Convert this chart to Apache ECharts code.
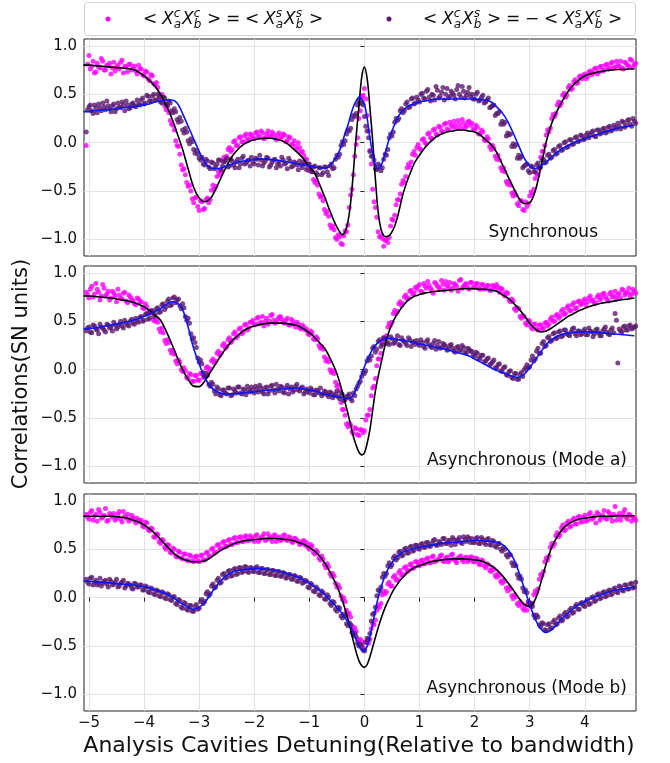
<!DOCTYPE html>
<html>
<head>
<meta charset="utf-8">
<script src="https://cdn.jsdelivr.net/npm/echarts@6/dist/echarts.min.js"></script>
<style>
  html, body { margin: 0; padding: 0; background: #fff; }
  #chart { width: 670px; height: 763px; }
</style>
</head>
<body>
<div id="chart"></div>
<script>
// detuning of the measured points (two interleaved sweeps, shared by every panel)
const xs = [
  -5.05,-5,-4.95,-4.9,-4.85,-4.8,-4.75,-4.7,-4.65,-4.6,-4.55,-4.5,-4.45,-4.4,-4.35,-4.3,-4.25,-4.2,-4.15,-4.1,
  -4.05,-4,-3.95,-3.9,-3.85,-3.8,-3.75,-3.7,-3.65,-3.6,-3.55,-3.5,-3.45,-3.4,-3.35,-3.3,-3.25,-3.2,-3.15,-3.1,
  -3.05,-3,-2.95,-2.9,-2.85,-2.8,-2.75,-2.7,-2.65,-2.6,-2.55,-2.5,-2.45,-2.4,-2.35,-2.3,-2.25,-2.2,-2.15,-2.1,
  -2.05,-2,-1.95,-1.9,-1.85,-1.8,-1.75,-1.7,-1.65,-1.6,-1.55,-1.5,-1.45,-1.4,-1.35,-1.3,-1.25,-1.2,-1.15,-1.1,
  -1.05,-1,-0.95,-0.9,-0.85,-0.8,-0.75,-0.7,-0.65,-0.6,-0.55,-0.5,-0.45,-0.4,-0.35,-0.3,-0.25,-0.2,-0.15,-0.1,
  -0.05,0,0.05,0.1,0.15,0.2,0.25,0.3,0.35,0.4,0.45,0.5,0.55,0.6,0.65,0.7,0.75,0.8,0.85,0.9,
  0.95,1,1.05,1.1,1.15,1.2,1.25,1.3,1.35,1.4,1.45,1.5,1.55,1.6,1.65,1.7,1.75,1.8,1.85,1.9,
  1.95,2,2.05,2.1,2.15,2.2,2.25,2.3,2.35,2.4,2.45,2.5,2.55,2.6,2.65,2.7,2.75,2.8,2.85,2.9,
  2.95,3,3.05,3.1,3.15,3.2,3.25,3.3,3.35,3.4,3.45,3.5,3.55,3.6,3.65,3.7,3.75,3.8,3.85,3.9,
  3.95,4,4.05,4.1,4.15,4.2,4.25,4.3,4.35,4.4,4.45,4.5,4.55,4.6,4.65,4.7,4.75,4.8,4.85,4.9
];
const xsMid = [
  -5.025,-4.975,-4.925,-4.875,-4.825,-4.775,-4.725,-4.675,-4.625,-4.575,-4.525,-4.475,-4.425,-4.375,-4.325,-4.275,-4.225,-4.175,-4.125,-4.075,
  -4.025,-3.975,-3.925,-3.875,-3.825,-3.775,-3.725,-3.675,-3.625,-3.575,-3.525,-3.475,-3.425,-3.375,-3.325,-3.275,-3.225,-3.175,-3.125,-3.075,
  -3.025,-2.975,-2.925,-2.875,-2.825,-2.775,-2.725,-2.675,-2.625,-2.575,-2.525,-2.475,-2.425,-2.375,-2.325,-2.275,-2.225,-2.175,-2.125,-2.075,
  -2.025,-1.975,-1.925,-1.875,-1.825,-1.775,-1.725,-1.675,-1.625,-1.575,-1.525,-1.475,-1.425,-1.375,-1.325,-1.275,-1.225,-1.175,-1.125,-1.075,
  -1.025,-0.975,-0.925,-0.875,-0.825,-0.775,-0.725,-0.675,-0.625,-0.575,-0.525,-0.475,-0.425,-0.375,-0.325,-0.275,-0.225,-0.175,-0.125,-0.075,
  -0.025,0.025,0.075,0.125,0.175,0.225,0.275,0.325,0.375,0.425,0.475,0.525,0.575,0.625,0.675,0.725,0.775,0.825,0.875,0.925,
  0.975,1.025,1.075,1.125,1.175,1.225,1.275,1.325,1.375,1.425,1.475,1.525,1.575,1.625,1.675,1.725,1.775,1.825,1.875,1.925,
  1.975,2.025,2.075,2.125,2.175,2.225,2.275,2.325,2.375,2.425,2.475,2.525,2.575,2.625,2.675,2.725,2.775,2.825,2.875,2.925,
  2.975,3.025,3.075,3.125,3.175,3.225,3.275,3.325,3.375,3.425,3.475,3.525,3.575,3.625,3.675,3.725,3.775,3.825,3.875,3.925,
  3.975,4.025,4.075,4.125,4.175,4.225,4.275,4.325,4.375,4.425,4.475,4.525,4.575,4.625,4.675,4.725,4.775,4.825,4.875,4.925
];

// Synchronous
const syncCC = [
  -0.03,0.90,0.79,0.72,0.82,0.77,0.84,0.75,0.80,0.71,0.83,0.78,0.76,0.85,0.79,0.73,0.81,0.77,0.74,0.80,
  0.76,0.69,0.73,0.64,0.69,0.60,0.57,0.46,0.47,0.34,0.31,0.19,0.13,-0.03,-0.12,-0.28,-0.33,-0.45,-0.50,-0.62,
  -0.56,-0.70,-0.61,-0.68,-0.57,-0.59,-0.44,-0.45,-0.30,-0.29,-0.15,-0.14,-0.05,-0.07,0.02,-0.03,0.06,0.01,0.09,0.04,
  0.08,0.04,0.11,0.06,0.10,0.05,0.12,0.07,0.09,0.03,0.10,0.06,0.08,0.02,0.05,-0.01,-0.04,0.00,-0.10,-0.13,
  -0.17,-0.29,-0.30,-0.41,-0.44,-0.56,-0.60,-0.73,-0.76,-0.88,-0.90,-1.00,-0.97,-1.05,-0.91,-0.85,-0.54,-0.33,-0.02,0.25,
  0.47,0.56,0.28,-0.08,-0.48,-0.67,-0.92,-0.96,-1.07,-1.00,-0.98,-0.79,-0.75,-0.59,-0.53,-0.39,-0.35,-0.22,-0.20,-0.09,
  -0.05,-0.06,0.03,0.00,0.09,0.05,0.13,0.09,0.17,0.12,0.19,0.14,0.21,0.16,0.18,0.23,0.15,0.20,0.17,0.22,
  0.20,0.13,0.16,0.09,0.11,0.02,0.04,-0.07,-0.06,-0.17,-0.18,-0.29,-0.30,-0.43,-0.44,-0.55,-0.54,-0.65,-0.60,-0.70,
  -0.66,-0.55,-0.53,-0.37,-0.33,-0.15,-0.09,0.08,0.11,0.25,0.27,0.39,0.38,0.49,0.47,0.57,0.55,0.63,0.61,0.68,
  0.66,0.71,0.68,0.74,0.72,0.77,0.73,0.79,0.75,0.81,0.77,0.83,0.78,0.80,0.84,0.76,0.82,0.79,0.85,0.81
];
const syncCCMid = [
  0.81,0.76,0.84,0.73,0.78,0.87,0.75,0.80,0.82,0.77,0.74,0.80,0.83,0.72,0.78,0.81,0.75,0.79,0.71,0.76,
  0.70,0.74,0.66,0.70,0.61,0.62,0.49,0.50,0.38,0.37,0.23,0.18,0.02,-0.04,-0.23,-0.27,-0.41,-0.44,-0.58,-0.57,
  -0.66,-0.60,-0.69,-0.59,-0.62,-0.49,-0.48,-0.35,-0.33,-0.19,-0.18,-0.07,-0.09,0.01,-0.03,0.05,0.01,0.07,0.03,0.09,
  0.05,0.10,0.07,0.12,0.04,0.09,0.06,0.11,0.05,0.08,0.04,0.09,0.01,0.06,-0.02,0.02,-0.07,-0.05,-0.09,-0.17,
  -0.26,-0.26,-0.38,-0.39,-0.53,-0.55,-0.69,-0.71,-0.85,-0.86,-0.98,-0.95,-1.04,-0.96,-0.92,-0.67,-0.48,-0.14,0.05,0.33,
  0.49,0.45,0.12,-0.22,-0.61,-0.77,-0.97,-0.99,-1.01,-1.03,-0.86,-0.80,-0.64,-0.59,-0.43,-0.41,-0.26,-0.25,-0.12,-0.13,
  -0.02,-0.07,0.04,-0.01,0.10,0.04,0.14,0.08,0.16,0.11,0.20,0.13,0.18,0.22,0.15,0.19,0.24,0.16,0.21,0.18,
  0.14,0.18,0.09,0.13,0.03,0.06,-0.04,-0.03,-0.14,-0.13,-0.26,-0.26,-0.40,-0.40,-0.52,-0.51,-0.63,-0.60,-0.69,-0.61,
  -0.63,-0.51,-0.48,-0.32,-0.27,-0.09,-0.03,0.13,0.15,0.29,0.30,0.42,0.41,0.51,0.49,0.59,0.56,0.65,0.62,0.69,
  0.69,0.66,0.73,0.70,0.76,0.71,0.78,0.74,0.80,0.76,0.82,0.77,0.84,0.79,0.77,0.83,0.80,0.86,0.78,0.82
];
const syncCS = [
  0.11,0.37,0.33,0.39,0.31,0.36,0.41,0.34,0.38,0.32,0.40,0.35,0.37,0.42,0.33,0.39,0.36,0.41,0.37,0.40,
  0.44,0.40,0.49,0.43,0.48,0.44,0.50,0.42,0.47,0.40,0.43,0.33,0.35,0.24,0.26,0.13,0.15,0.02,0.04,-0.07,
  -0.08,-0.16,-0.15,-0.23,-0.19,-0.27,-0.21,-0.25,-0.18,-0.28,-0.20,-0.16,-0.24,-0.19,-0.26,-0.17,-0.22,-0.14,-0.21,-0.18,
  -0.15,-0.22,-0.17,-0.13,-0.24,-0.19,-0.16,-0.23,-0.18,-0.26,-0.20,-0.15,-0.22,-0.27,-0.19,-0.24,-0.21,-0.28,-0.23,-0.20,
  -0.28,-0.22,-0.30,-0.24,-0.33,-0.26,-0.31,-0.25,-0.34,-0.22,-0.26,-0.13,-0.12,0.01,0.02,0.13,0.15,0.28,0.30,0.43,
  0.41,0.27,0.12,-0.09,-0.14,-0.27,-0.22,-0.29,-0.17,-0.13,0.05,0.07,0.21,0.23,0.33,0.31,0.40,0.36,0.45,0.40,
  0.47,0.42,0.51,0.45,0.55,0.43,0.49,0.58,0.46,0.52,0.44,0.56,0.48,0.51,0.45,0.59,0.47,0.53,0.49,0.57,
  0.50,0.45,0.52,0.44,0.49,0.42,0.46,0.37,0.39,0.30,0.32,0.22,0.21,0.10,0.09,-0.01,-0.02,-0.13,-0.14,-0.24,
  -0.22,-0.31,-0.25,-0.30,-0.21,-0.25,-0.17,-0.20,-0.12,-0.15,-0.07,-0.11,-0.03,-0.07,0.01,-0.04,0.03,-0.01,0.06,0.02,
  0.07,0.04,0.10,0.08,0.12,0.06,0.13,0.10,0.15,0.11,0.17,0.13,0.16,0.20,0.14,0.21,0.18,0.24,0.17,0.22
];
const syncCSMid = [
  0.34,0.39,0.30,0.36,0.40,0.33,0.37,0.43,0.35,0.38,0.32,0.41,0.36,0.39,0.43,0.35,0.40,0.38,0.44,0.39,
  0.46,0.41,0.48,0.43,0.50,0.44,0.47,0.41,0.46,0.39,0.41,0.31,0.32,0.21,0.22,0.10,0.11,-0.01,0.01,-0.11,
  -0.12,-0.18,-0.22,-0.17,-0.25,-0.20,-0.27,-0.22,-0.18,-0.24,-0.19,-0.25,-0.17,-0.23,-0.20,-0.26,-0.16,-0.22,-0.19,-0.24,
  -0.20,-0.16,-0.23,-0.18,-0.21,-0.15,-0.25,-0.20,-0.17,-0.22,-0.24,-0.18,-0.21,-0.16,-0.25,-0.20,-0.23,-0.19,-0.26,-0.22,
  -0.22,-0.29,-0.25,-0.31,-0.26,-0.33,-0.25,-0.30,-0.24,-0.27,-0.17,-0.15,-0.03,-0.02,0.09,0.12,0.24,0.27,0.39,0.41,
  0.39,0.17,0.05,-0.14,-0.18,-0.28,-0.24,-0.26,-0.12,-0.07,0.09,0.11,0.25,0.25,0.35,0.33,0.42,0.37,0.46,0.41,
  0.44,0.50,0.46,0.53,0.47,0.50,0.44,0.54,0.48,0.57,0.50,0.46,0.53,0.49,0.55,0.50,0.58,0.46,0.52,0.48,
  0.45,0.50,0.43,0.47,0.41,0.44,0.36,0.38,0.28,0.30,0.19,0.19,0.07,0.08,-0.04,-0.04,-0.16,-0.16,-0.26,-0.23,
  -0.29,-0.24,-0.30,-0.23,-0.26,-0.18,-0.21,-0.13,-0.16,-0.08,-0.12,-0.04,-0.08,0.00,-0.05,0.03,-0.02,0.05,0.01,0.08,
  0.03,0.08,0.05,0.11,0.07,0.13,0.09,0.14,0.10,0.16,0.12,0.18,0.14,0.17,0.22,0.16,0.23,0.19,0.25,0.20
];
// Asynchronous (Mode a)
const modeACC = [
  0.80,0.74,0.86,0.78,0.83,0.72,0.88,0.76,0.81,0.74,0.79,0.70,0.77,0.73,0.80,0.69,0.75,0.71,0.67,0.73,
  0.70,0.63,0.65,0.58,0.59,0.50,0.49,0.39,0.38,0.27,0.28,0.17,0.16,0.06,0.08,-0.02,-0.01,-0.09,-0.05,-0.12,
  -0.06,-0.11,-0.04,-0.07,0.03,0.01,0.11,0.09,0.19,0.17,0.27,0.24,0.33,0.30,0.39,0.35,0.43,0.39,0.47,0.43,
  0.49,0.46,0.53,0.48,0.55,0.50,0.47,0.56,0.51,0.49,0.54,0.52,0.48,0.53,0.46,0.50,0.44,0.47,0.42,0.44,
  0.42,0.36,0.38,0.31,0.32,0.22,0.21,0.09,0.08,-0.03,-0.04,-0.17,-0.21,-0.41,-0.47,-0.59,-0.57,-0.66,-0.61,-0.68,
  -0.62,-0.63,-0.47,-0.41,-0.19,-0.09,0.11,0.17,0.33,0.35,0.48,0.49,0.61,0.60,0.70,0.68,0.77,0.74,0.82,0.79,
  0.83,0.88,0.80,0.86,0.91,0.84,0.79,0.89,0.85,0.92,0.82,0.87,0.90,0.84,0.88,0.81,0.93,0.86,0.89,0.83,
  0.90,0.85,0.89,0.83,0.88,0.84,0.87,0.82,0.86,0.88,0.80,0.83,0.76,0.79,0.70,0.71,0.61,0.63,0.53,0.55,
  0.46,0.50,0.42,0.47,0.41,0.46,0.43,0.49,0.47,0.54,0.50,0.57,0.55,0.62,0.58,0.66,0.61,0.69,0.64,0.71,
  0.68,0.73,0.70,0.76,0.72,0.69,0.77,0.74,0.79,0.73,0.78,0.75,0.81,0.77,0.74,0.82,0.79,0.84,0.78,0.81
];
const modeACCMid = [
  0.77,0.83,0.75,0.89,0.80,0.76,0.84,0.78,0.72,0.81,0.76,0.83,0.74,0.79,0.71,0.77,0.73,0.68,0.74,0.70,
  0.64,0.68,0.59,0.61,0.51,0.53,0.42,0.43,0.30,0.31,0.20,0.20,0.09,0.10,0.00,0.02,-0.08,-0.04,-0.12,-0.06,
  -0.11,-0.04,-0.08,0.02,-0.01,0.09,0.07,0.17,0.15,0.25,0.22,0.31,0.28,0.37,0.33,0.42,0.37,0.46,0.41,0.49,
  0.51,0.47,0.54,0.49,0.45,0.53,0.50,0.57,0.48,0.52,0.55,0.49,0.51,0.46,0.52,0.47,0.49,0.43,0.46,0.41,
  0.37,0.40,0.32,0.34,0.25,0.24,0.13,0.11,0.00,-0.01,-0.13,-0.16,-0.34,-0.41,-0.56,-0.55,-0.64,-0.60,-0.67,-0.62,
  -0.65,-0.52,-0.47,-0.27,-0.17,0.04,0.11,0.28,0.31,0.44,0.46,0.58,0.58,0.68,0.66,0.75,0.73,0.81,0.78,0.85,
  0.86,0.81,0.89,0.84,0.87,0.82,0.90,0.86,0.83,0.88,0.91,0.85,0.82,0.89,0.86,0.92,0.84,0.88,0.85,0.90,
  0.85,0.89,0.84,0.88,0.83,0.87,0.82,0.87,0.83,0.85,0.84,0.78,0.80,0.72,0.73,0.63,0.64,0.55,0.56,0.48,
  0.51,0.44,0.47,0.42,0.46,0.42,0.48,0.45,0.52,0.50,0.56,0.53,0.60,0.57,0.64,0.61,0.67,0.63,0.70,0.67,
  0.71,0.67,0.74,0.71,0.68,0.75,0.72,0.78,0.75,0.71,0.80,0.76,0.73,0.79,0.83,0.77,0.80,0.76,0.83,0.79
];
const modeACS = [
  0.40,0.44,0.38,0.45,0.41,0.47,0.43,0.39,0.46,0.44,0.49,0.42,0.47,0.45,0.51,0.46,0.50,0.48,0.53,0.49,
  0.55,0.51,0.58,0.53,0.61,0.57,0.64,0.60,0.68,0.65,0.73,0.67,0.75,0.72,0.66,0.68,0.55,0.53,0.37,0.33,
  0.23,0.08,0.06,-0.07,-0.06,-0.17,-0.15,-0.25,-0.20,-0.27,-0.21,-0.25,-0.19,-0.26,-0.22,-0.18,-0.24,-0.20,-0.26,-0.21,
  -0.18,-0.24,-0.20,-0.16,-0.23,-0.19,-0.25,-0.17,-0.21,-0.15,-0.22,-0.18,-0.24,-0.16,-0.20,-0.23,-0.17,-0.21,-0.19,-0.25,
  -0.20,-0.24,-0.21,-0.26,-0.22,-0.19,-0.25,-0.23,-0.28,-0.24,-0.27,-0.22,-0.30,-0.26,-0.31,-0.27,-0.30,-0.24,-0.20,-0.14,
  -0.07,-0.04,0.09,0.10,0.22,0.18,0.29,0.24,0.33,0.27,0.26,0.32,0.28,0.35,0.25,0.30,0.27,0.33,0.24,0.29,
  0.30,0.25,0.28,0.22,0.31,0.24,0.27,0.21,0.29,0.23,0.26,0.20,0.25,0.22,0.18,0.24,0.20,0.23,0.17,0.21,
  0.19,0.14,0.17,0.11,0.15,0.09,0.12,0.06,0.10,0.02,0.06,-0.02,0.03,-0.06,-0.01,-0.09,-0.04,-0.10,-0.03,0.00,
  0.05,0.03,0.14,0.11,0.22,0.17,0.29,0.25,0.34,0.30,0.38,0.33,0.40,0.35,0.41,0.36,0.39,0.43,0.35,0.40,
  0.37,0.42,0.36,0.40,0.34,0.41,0.38,0.35,0.42,0.39,0.36,0.43,0.58,0.07,0.40,0.44,0.41,0.45,0.42,0.44
];
const modeACSMid = [
  0.43,0.39,0.46,0.42,0.37,0.44,0.41,0.47,0.43,0.40,0.46,0.44,0.50,0.43,0.48,0.45,0.52,0.47,0.50,0.54,
  0.50,0.57,0.52,0.60,0.55,0.63,0.59,0.67,0.62,0.71,0.66,0.74,0.69,0.73,0.63,0.64,0.51,0.48,0.32,0.28,
  0.12,0.10,-0.03,-0.04,-0.15,-0.13,-0.22,-0.18,-0.26,-0.21,-0.24,-0.19,-0.27,-0.20,-0.24,-0.18,-0.25,-0.21,-0.17,-0.23,
  -0.21,-0.17,-0.23,-0.19,-0.25,-0.18,-0.22,-0.16,-0.24,-0.20,-0.17,-0.23,-0.19,-0.25,-0.18,-0.21,-0.15,-0.22,-0.18,-0.23,
  -0.22,-0.19,-0.26,-0.21,-0.24,-0.27,-0.22,-0.26,-0.23,-0.29,-0.25,-0.28,-0.24,-0.32,-0.28,-0.25,-0.32,-0.27,-0.17,-0.12,
  -0.03,-0.01,0.12,0.14,0.24,0.21,0.31,0.26,0.32,0.28,0.34,0.27,0.31,0.26,0.33,0.29,0.25,0.31,0.28,0.26,
  0.27,0.31,0.24,0.29,0.26,0.23,0.30,0.25,0.22,0.27,0.24,0.21,0.26,0.19,0.23,0.20,0.25,0.18,0.22,0.19,
  0.15,0.18,0.12,0.15,0.08,0.11,0.05,0.08,0.02,0.05,-0.01,0.02,-0.05,-0.02,-0.08,-0.04,-0.10,-0.05,-0.07,0.02,
  0.02,0.10,0.09,0.19,0.17,0.27,0.24,0.33,0.29,0.37,0.32,0.39,0.34,0.41,0.37,0.35,0.42,0.37,0.40,0.36,
  0.40,0.36,0.43,0.39,0.37,0.42,0.35,0.40,0.44,0.37,0.41,0.38,0.51,0.42,0.39,0.45,0.41,0.46,0.43,0.45
];
// Asynchronous (Mode b)
const modeBCC = [
  0.86,0.81,0.90,0.84,0.79,0.88,0.83,0.92,0.80,0.85,0.87,0.82,0.89,0.78,0.84,0.86,0.81,0.83,0.77,0.80,
  0.80,0.73,0.77,0.69,0.71,0.62,0.65,0.56,0.59,0.50,0.54,0.46,0.50,0.42,0.47,0.40,0.45,0.38,0.43,0.37,
  0.43,0.37,0.44,0.39,0.47,0.43,0.51,0.47,0.55,0.51,0.58,0.53,0.60,0.55,0.62,0.57,0.63,0.58,0.64,0.59,
  0.62,0.58,0.65,0.60,0.63,0.59,0.66,0.61,0.64,0.58,0.63,0.60,0.65,0.59,0.62,0.57,0.61,0.58,0.56,0.59,
  0.57,0.50,0.53,0.45,0.47,0.39,0.40,0.31,0.32,0.22,0.22,0.11,0.10,-0.02,-0.04,-0.17,-0.20,-0.33,-0.35,-0.46,
  -0.45,-0.53,-0.44,-0.43,-0.27,-0.23,-0.08,-0.06,0.07,0.06,0.16,0.12,0.23,0.19,0.28,0.24,0.32,0.28,0.35,0.31,
  0.37,0.33,0.39,0.35,0.41,0.36,0.43,0.38,0.40,0.44,0.37,0.42,0.39,0.45,0.38,0.41,0.43,0.37,0.42,0.39,
  0.42,0.37,0.40,0.34,0.38,0.31,0.34,0.27,0.29,0.21,0.23,0.15,0.17,0.07,0.09,-0.01,0.01,-0.08,-0.06,-0.13,
  -0.13,-0.05,-0.06,0.07,0.09,0.24,0.27,0.41,0.43,0.56,0.56,0.67,0.65,0.75,0.70,0.79,0.74,0.82,0.76,0.84,
  0.78,0.85,0.80,0.88,0.82,0.77,0.86,0.83,0.90,0.81,0.87,0.79,0.94,0.84,0.80,0.88,0.83,0.86,0.79,0.82
];
const modeBCCMid = [
  0.83,0.88,0.80,0.86,0.91,0.82,0.85,0.79,0.87,0.83,0.80,0.86,0.81,0.89,0.82,0.79,0.85,0.80,0.82,0.78,
  0.74,0.78,0.70,0.72,0.63,0.66,0.58,0.60,0.52,0.55,0.47,0.51,0.43,0.48,0.41,0.45,0.39,0.44,0.38,0.42,
  0.38,0.43,0.39,0.46,0.42,0.50,0.46,0.54,0.50,0.57,0.53,0.59,0.55,0.61,0.57,0.62,0.58,0.63,0.59,0.64,
  0.60,0.64,0.58,0.62,0.66,0.60,0.63,0.58,0.65,0.61,0.59,0.64,0.60,0.63,0.58,0.61,0.59,0.55,0.58,0.54,
  0.52,0.55,0.47,0.49,0.41,0.43,0.34,0.35,0.25,0.25,0.15,0.13,0.02,0.00,-0.13,-0.16,-0.29,-0.31,-0.43,-0.43,
  -0.52,-0.46,-0.47,-0.32,-0.28,-0.13,-0.10,0.03,0.04,0.14,0.12,0.21,0.18,0.26,0.23,0.31,0.27,0.34,0.30,0.37,
  0.34,0.38,0.35,0.40,0.36,0.42,0.37,0.39,0.43,0.38,0.41,0.37,0.44,0.40,0.36,0.42,0.39,0.41,0.37,0.42,
  0.37,0.41,0.35,0.39,0.33,0.35,0.28,0.31,0.23,0.25,0.17,0.18,0.10,0.11,0.02,0.03,-0.06,-0.04,-0.11,-0.08,
  -0.06,-0.09,0.03,0.05,0.19,0.23,0.37,0.39,0.52,0.53,0.64,0.63,0.72,0.69,0.77,0.73,0.80,0.76,0.83,0.78,
  0.83,0.79,0.86,0.81,0.84,0.88,0.80,0.85,0.82,0.89,0.83,0.86,0.80,0.87,0.84,0.91,0.81,0.85,0.83,0.80
];
const modeBCS = [
  0.19,0.14,0.21,0.16,0.13,0.20,0.15,0.18,0.11,0.17,0.14,0.19,0.12,0.16,0.10,0.15,0.13,0.09,0.14,0.11,
  0.13,0.08,0.11,0.05,0.09,0.03,0.07,0.01,0.05,-0.01,0.03,-0.03,0.01,-0.07,-0.03,-0.11,-0.06,-0.13,-0.08,-0.14,
  -0.07,-0.11,-0.02,-0.04,0.06,0.04,0.14,0.11,0.20,0.16,0.25,0.21,0.28,0.23,0.30,0.25,0.31,0.27,0.32,0.26,
  0.31,0.27,0.32,0.26,0.30,0.25,0.29,0.24,0.28,0.23,0.27,0.22,0.25,0.21,0.24,0.19,0.22,0.17,0.20,0.16,
  0.17,0.10,0.13,0.06,0.09,0.02,0.05,-0.02,0.01,-0.08,-0.05,-0.14,-0.11,-0.21,-0.19,-0.29,-0.28,-0.39,-0.40,-0.50,
  -0.49,-0.55,-0.42,-0.37,-0.17,-0.10,0.08,0.11,0.25,0.25,0.36,0.34,0.43,0.41,0.48,0.44,0.51,0.46,0.53,0.49,
  0.54,0.50,0.56,0.52,0.57,0.53,0.59,0.54,0.58,0.55,0.61,0.56,0.59,0.62,0.55,0.60,0.57,0.63,0.58,0.61,
  0.61,0.57,0.62,0.56,0.60,0.55,0.61,0.54,0.58,0.52,0.56,0.48,0.50,0.42,0.44,0.33,0.33,0.20,0.19,0.06,
  0.05,-0.08,-0.09,-0.21,-0.20,-0.30,-0.27,-0.34,-0.27,-0.31,-0.23,-0.27,-0.19,-0.23,-0.15,-0.19,-0.11,-0.15,-0.07,-0.12,
  -0.05,-0.09,-0.02,-0.06,0.01,-0.03,0.04,0.00,0.06,0.02,0.08,0.04,0.10,0.05,0.11,0.07,0.13,0.09,0.15,0.11
];
const modeBCSMid = [
  0.16,0.20,0.13,0.18,0.15,0.12,0.17,0.14,0.19,0.13,0.16,0.11,0.15,0.18,0.12,0.14,0.10,0.15,0.11,0.13,
  0.08,0.12,0.06,0.10,0.04,0.08,0.02,0.06,0.00,0.04,-0.02,0.01,-0.06,-0.02,-0.10,-0.05,-0.12,-0.08,-0.14,-0.09,
  -0.12,-0.04,-0.06,0.04,0.02,0.12,0.10,0.18,0.15,0.24,0.20,0.27,0.22,0.29,0.24,0.31,0.26,0.32,0.27,0.31,
  0.27,0.31,0.26,0.30,0.25,0.29,0.24,0.28,0.23,0.27,0.22,0.26,0.20,0.24,0.19,0.23,0.17,0.21,0.15,0.18,
  0.11,0.15,0.07,0.11,0.03,0.07,-0.01,0.03,-0.06,-0.04,-0.12,-0.10,-0.19,-0.17,-0.27,-0.26,-0.36,-0.37,-0.47,-0.48,
  -0.54,-0.46,-0.43,-0.24,-0.16,0.02,0.07,0.21,0.22,0.33,0.32,0.41,0.39,0.47,0.43,0.50,0.46,0.52,0.48,0.54,
  0.51,0.55,0.52,0.57,0.53,0.56,0.60,0.54,0.57,0.61,0.56,0.59,0.54,0.60,0.58,0.62,0.56,0.60,0.63,0.57,
  0.57,0.61,0.56,0.62,0.57,0.60,0.55,0.59,0.53,0.56,0.50,0.52,0.44,0.45,0.36,0.35,0.24,0.22,0.10,0.08,
  -0.04,-0.06,-0.18,-0.18,-0.28,-0.26,-0.33,-0.28,-0.32,-0.25,-0.28,-0.21,-0.24,-0.17,-0.20,-0.13,-0.16,-0.09,-0.12,-0.06,
  -0.08,-0.04,-0.07,0.00,-0.04,0.03,-0.01,0.05,0.01,0.07,0.03,0.09,0.06,0.12,0.08,0.13,0.09,0.14,0.10,0.16
];

// detuning of the fitted curves (finer round zero)
const fitXs = [
  -5.1,-5,-4.9,-4.8,-4.7,-4.6,-4.5,-4.4,-4.3,-4.2,
  -4.1,-4,-3.9,-3.8,-3.7,-3.6,-3.5,-3.4,-3.3,-3.2,
  -3.1,-3,-2.9,-2.8,-2.7,-2.6,-2.5,-2.4,-2.3,-2.2,
  -2.1,-2,-1.9,-1.8,-1.7,-1.6,-1.5,-1.4,-1.3,-1.2,
  -1.1,-1,-0.95,-0.9,-0.85,-0.8,-0.75,-0.7,-0.65,-0.6,
  -0.55,-0.5,-0.45,-0.4,-0.35,-0.3,-0.25,-0.2,-0.15,-0.1,
  -0.05,0,0.05,0.1,0.15,0.2,0.25,0.3,0.35,0.4,
  0.45,0.5,0.55,0.6,0.65,0.7,0.75,0.8,0.85,0.9,
  0.95,1,1.1,1.2,1.3,1.4,1.5,1.6,1.7,1.8,
  1.9,2,2.1,2.2,2.3,2.4,2.5,2.6,2.7,2.8,
  2.9,3,3.1,3.2,3.3,3.4,3.5,3.6,3.7,3.8,
  3.9,4,4.1,4.2,4.3,4.4,4.5,4.6,4.7,4.8,
  4.9
];
const syncFitCC = [
  0.80,0.80,0.795,0.79,0.785,0.78,0.775,0.77,0.765,0.755,
  0.73,0.69,0.64,0.58,0.50,0.39,0.26,0.10,-0.07,-0.27,
  -0.46,-0.57,-0.61,-0.58,-0.48,-0.36,-0.24,-0.14,-0.07,-0.02,
  0.01,0.03,0.04,0.045,0.045,0.035,0.02,-0.01,-0.06,-0.11,
  -0.17,-0.25,-0.28,-0.32,-0.38,-0.45,-0.52,-0.59,-0.67,-0.74,
  -0.81,-0.87,-0.92,-0.95,-0.92,-0.82,-0.62,-0.30,0.06,0.37,
  0.67,0.78,0.66,0.36,0.02,-0.38,-0.72,-0.89,-0.96,-0.97,
  -0.96,-0.92,-0.86,-0.77,-0.65,-0.53,-0.44,-0.36,-0.29,-0.22,
  -0.17,-0.13,-0.05,0.01,0.06,0.09,0.11,0.12,0.13,0.13,
  0.12,0.11,0.08,0.03,-0.02,-0.10,-0.22,-0.34,-0.46,-0.57,
  -0.63,-0.62,-0.50,-0.26,0.01,0.20,0.33,0.44,0.53,0.60,
  0.65,0.69,0.71,0.725,0.735,0.745,0.75,0.755,0.755,0.76,
  0.76
];
const syncFitCS = [
  0.32,0.32,0.33,0.335,0.34,0.345,0.35,0.36,0.365,0.37,
  0.38,0.39,0.40,0.42,0.43,0.44,0.44,0.41,0.30,0.17,
  0.04,-0.09,-0.20,-0.26,-0.27,-0.26,-0.24,-0.22,-0.20,-0.19,
  -0.18,-0.175,-0.17,-0.17,-0.175,-0.18,-0.19,-0.20,-0.21,-0.22,
  -0.23,-0.24,-0.245,-0.25,-0.255,-0.26,-0.26,-0.26,-0.25,-0.22,
  -0.18,-0.14,-0.08,0.00,0.10,0.18,0.28,0.37,0.43,0.47,
  0.45,0.40,0.25,0.05,-0.11,-0.23,-0.27,-0.24,-0.16,-0.06,
  0.04,0.12,0.19,0.26,0.30,0.33,0.36,0.38,0.39,0.40,
  0.41,0.42,0.43,0.44,0.45,0.45,0.45,0.45,0.45,0.45,
  0.45,0.45,0.445,0.44,0.42,0.37,0.31,0.22,0.10,-0.03,
  -0.16,-0.24,-0.27,-0.24,-0.20,-0.15,-0.10,-0.06,-0.03,0.00,
  0.02,0.04,0.06,0.08,0.10,0.12,0.13,0.15,0.16,0.17,
  0.18
];
const modeAFitCC = [
  0.76,0.76,0.755,0.75,0.745,0.74,0.73,0.72,0.71,0.695,
  0.675,0.65,0.61,0.56,0.51,0.40,0.27,0.13,0.00,-0.10,
  -0.17,-0.175,-0.12,-0.03,0.06,0.15,0.23,0.30,0.35,0.40,
  0.43,0.45,0.465,0.475,0.48,0.48,0.48,0.475,0.465,0.45,
  0.42,0.38,0.36,0.33,0.30,0.27,0.24,0.20,0.15,0.09,
  0.03,-0.04,-0.13,-0.23,-0.34,-0.45,-0.57,-0.69,-0.78,-0.85,
  -0.88,-0.86,-0.76,-0.62,-0.42,-0.22,-0.07,0.06,0.19,0.31,
  0.40,0.47,0.53,0.58,0.62,0.66,0.69,0.72,0.74,0.755,
  0.765,0.775,0.79,0.80,0.81,0.815,0.82,0.825,0.83,0.835,
  0.835,0.835,0.83,0.83,0.82,0.81,0.775,0.74,0.69,0.63,
  0.56,0.48,0.42,0.39,0.40,0.43,0.47,0.51,0.55,0.58,
  0.61,0.635,0.655,0.67,0.685,0.695,0.705,0.715,0.725,0.73,
  0.74
];
const modeAFitCS = [
  0.42,0.425,0.43,0.44,0.45,0.46,0.47,0.48,0.495,0.51,
  0.525,0.55,0.575,0.60,0.63,0.67,0.70,0.69,0.62,0.44,
  0.22,0.06,-0.08,-0.17,-0.22,-0.245,-0.25,-0.25,-0.245,-0.24,
  -0.235,-0.23,-0.22,-0.215,-0.21,-0.205,-0.20,-0.195,-0.19,-0.19,
  -0.20,-0.21,-0.215,-0.22,-0.23,-0.24,-0.25,-0.255,-0.26,-0.27,
  -0.275,-0.28,-0.285,-0.29,-0.295,-0.30,-0.29,-0.26,-0.20,-0.13,
  -0.05,0.03,0.10,0.16,0.21,0.25,0.28,0.30,0.31,0.32,
  0.32,0.32,0.315,0.31,0.305,0.30,0.295,0.29,0.285,0.28,
  0.27,0.265,0.255,0.245,0.23,0.22,0.205,0.19,0.175,0.16,
  0.14,0.11,0.08,0.05,0.02,-0.01,-0.03,-0.05,-0.07,-0.08,
  -0.05,0.02,0.10,0.18,0.26,0.31,0.345,0.365,0.38,0.385,
  0.39,0.39,0.39,0.385,0.38,0.375,0.37,0.365,0.36,0.355,
  0.35
];
const modeBFitCC = [
  0.84,0.84,0.84,0.84,0.84,0.84,0.835,0.83,0.82,0.80,
  0.78,0.75,0.71,0.66,0.60,0.54,0.48,0.43,0.40,0.38,
  0.37,0.37,0.38,0.41,0.45,0.49,0.52,0.55,0.57,0.585,
  0.595,0.60,0.605,0.61,0.61,0.61,0.605,0.60,0.59,0.57,
  0.55,0.52,0.50,0.48,0.45,0.42,0.38,0.34,0.29,0.24,
  0.18,0.12,0.05,-0.03,-0.12,-0.22,-0.33,-0.45,-0.56,-0.65,
  -0.70,-0.72,-0.69,-0.61,-0.51,-0.41,-0.31,-0.22,-0.14,-0.07,
  -0.01,0.05,0.10,0.14,0.18,0.21,0.24,0.27,0.29,0.31,
  0.32,0.33,0.35,0.37,0.38,0.39,0.395,0.40,0.40,0.40,
  0.395,0.39,0.38,0.36,0.33,0.29,0.23,0.16,0.08,0.00,
  -0.07,-0.09,-0.02,0.15,0.35,0.52,0.63,0.71,0.76,0.79,
  0.81,0.82,0.83,0.835,0.84,0.84,0.84,0.845,0.845,0.845,
  0.845
];
const modeBFitCS = [
  0.17,0.17,0.165,0.16,0.155,0.15,0.145,0.14,0.135,0.13,
  0.12,0.11,0.10,0.08,0.06,0.04,0.01,-0.03,-0.07,-0.10,
  -0.12,-0.10,-0.05,0.03,0.11,0.18,0.23,0.26,0.28,0.29,
  0.295,0.30,0.30,0.295,0.29,0.28,0.265,0.25,0.23,0.21,
  0.18,0.15,0.13,0.11,0.09,0.07,0.05,0.02,-0.01,-0.04,
  -0.07,-0.10,-0.13,-0.17,-0.21,-0.25,-0.30,-0.36,-0.43,-0.50,
  -0.54,-0.55,-0.50,-0.40,-0.27,-0.13,0.00,0.10,0.19,0.26,
  0.32,0.36,0.40,0.43,0.45,0.47,0.48,0.49,0.50,0.51,
  0.515,0.52,0.53,0.54,0.55,0.56,0.565,0.57,0.575,0.58,
  0.585,0.59,0.59,0.585,0.58,0.57,0.55,0.50,0.41,0.27,
  0.10,-0.07,-0.22,-0.32,-0.36,-0.33,-0.27,-0.21,-0.16,-0.11,
  -0.07,-0.04,-0.01,0.01,0.03,0.05,0.07,0.08,0.09,0.10,
  0.11
];

const panelNames = ['Synchronous', 'Asynchronous (Mode a)', 'Asynchronous (Mode b)'];
const xTicks = [-5, -4, -3, -2, -1, 0, 1, 2, 3, 4];
const yTicks = [-1, -0.5, 0, 0.5, 1];

const points = [
  [[syncCC, syncCCMid], [syncCS, syncCSMid]],
  [[modeACC, modeACCMid], [modeACS, modeACSMid]],
  [[modeBCC, modeBCCMid], [modeBCS, modeBCSMid]]
];
const fits = [[syncFitCC, syncFitCS], [modeAFitCC, modeAFitCS], [modeBFitCC, modeBFitCS]];

const FONT = 'DejaVu Sans';
const MAGENTA = '#ff00ff';
const PURPLE = '#5b1a6e';
const INK = '#111';

const zip = (a, b) => a.map((v, i) => [v, b[i]]);
const sweep = (pair) => zip(xs, pair[0]).concat(zip(xsMid, pair[1]));
const minus = (s) => s.replace('-', '\u2212');

const tops = [39, 266, 494];
const grids = [], xAxes = [], yAxes = [], series = [];

tops.forEach((top, i) => {
  const last = i === tops.length - 1;
  grids.push({
    left: 84, top: top, width: 552, height: 217,
    show: true, borderColor: '#222', borderWidth: 1, backgroundColor: 'transparent'
  });
  xAxes.push({
    type: 'value', gridIndex: i, min: -5.09, max: 4.93,
    axisLine: {show: false},
    axisTick: {show: last, length: 4, customValues: xTicks, lineStyle: {color: '#222'}},
    axisLabel: {
      show: last, customValues: xTicks, margin: 5,
      fontFamily: FONT, fontSize: 15, color: INK,
      formatter: (v) => minus(String(v))
    },
    splitLine: {show: true, lineStyle: {color: '#e3e3e3', width: 1}}
  });
  yAxes.push({
    type: 'value', gridIndex: i, min: -1.17, max: 1.07,
    axisLine: {show: false},
    axisTick: {show: true, length: 4, customValues: yTicks, lineStyle: {color: '#222'}},
    axisLabel: {
      customValues: yTicks, margin: 7,
      fontFamily: FONT, fontSize: 15, color: INK,
      formatter: (v) => minus(v.toFixed(1))
    },
    splitLine: {show: true, lineStyle: {color: '#e3e3e3', width: 1}}
  });

  series.push({
    type: 'scatter', name: 'cc', xAxisIndex: i, yAxisIndex: i, z: 2,
    symbolSize: 5, itemStyle: {color: MAGENTA},
    data: sweep(points[i][0])
  });
  series.push({
    type: 'scatter', name: 'cs', xAxisIndex: i, yAxisIndex: i, z: 2,
    symbolSize: 5, itemStyle: {color: PURPLE},
    data: sweep(points[i][1])
  });
  series.push({
    type: 'line', xAxisIndex: i, yAxisIndex: i, z: 3, smooth: 0.35,
    showSymbol: false, lineStyle: {color: '#000', width: 1.6},
    data: zip(fitXs, fits[i][0])
  });
  series.push({
    type: 'line', xAxisIndex: i, yAxisIndex: i, z: 3, smooth: 0.35,
    showSymbol: false, lineStyle: {color: '#0a14ff', width: 1.6},
    data: zip(fitXs, fits[i][1])
  });
});

// legend with math labels, laid out piece by piece
const measure = document.createElement('canvas').getContext('2d');
function textW(t, size, italic) {
  measure.font = (italic ? 'italic ' : '') + size + 'px "' + FONT + '"';
  return measure.measureText(t).width;
}
function txt(t, x, y, size, italic) {
  return {
    type: 'text', x: x, y: y, silent: true,
    style: {
      text: t, fontFamily: FONT, fontSize: size, fontStyle: italic ? 'italic' : 'normal',
      fill: INK, align: 'left', verticalAlign: 'middle', textAlign: 'left', textVerticalAlign: 'middle'
    }
  };
}
function mathLabel(tokens, x0, y, size) {
  const small = Math.round(size * 0.7);
  const out = [];
  let x = x0;
  tokens.forEach((t) => {
    if (t === ' ') { x += size * 0.28; return; }
    if (Array.isArray(t)) {
      out.push(txt(t[0], x, y + size * 0.3, small, true));
      out.push(txt(t[1], x, y - size * 0.38, small, true));
      x += Math.max(textW(t[0], small, true), textW(t[1], small, true)) + 1;
      return;
    }
    const it = t === 'X';
    out.push(txt(t, x, y, size, it));
    x += textW(t, size, it);
  });
  return out;
}
const label1 = ['<', ' ', 'X', ['a', 'c'], 'X', ['b', 'c'], ' ', '>', ' ', '=', ' ', '<', ' ', 'X', ['a', 's'], 'X', ['b', 's'], ' ', '>'];
const label2 = ['<', ' ', 'X', ['a', 'c'], 'X', ['b', 's'], ' ', '>', ' ', '=', ' ', '\u2212', ' ', '<', ' ', 'X', ['a', 's'], 'X', ['b', 'c'], ' ', '>'];

const graphic = [
  {type: 'rect', shape: {x: 84.5, y: 2.5, width: 551, height: 33, r: 3},
   style: {fill: '#fff', stroke: '#d0d0d0', lineWidth: 1}, silent: true},
  {type: 'circle', shape: {cx: 108, cy: 19, r: 2.5}, style: {fill: MAGENTA}, silent: true},
  {type: 'circle', shape: {cx: 389, cy: 19, r: 2.5}, style: {fill: PURPLE}, silent: true}
].concat(mathLabel(label1, 143, 20, 17), mathLabel(label2, 423, 20, 17));

const nameY = [233, 461, 689];
const nameX = [598, 627, 627];
panelNames.forEach((n, i) => {
  graphic.push({
    type: 'text', x: nameX[i], y: nameY[i], silent: true, z: 10,
    style: {text: n, fontFamily: FONT, fontSize: 17, fill: INK,
            align: 'right', verticalAlign: 'middle', textAlign: 'right', textVerticalAlign: 'middle'}
  });
});
graphic.push({
  type: 'text', x: 22, y: 374, rotation: Math.PI / 2, silent: true,
  style: {text: 'Correlations(SN units)', fontFamily: FONT, fontSize: 21, fill: INK,
          align: 'center', verticalAlign: 'middle', textAlign: 'center', textVerticalAlign: 'middle'}
});
graphic.push({
  type: 'text', x: 359, y: 746, silent: true,
  style: {text: 'Analysis Cavities Detuning(Relative to bandwidth)', fontFamily: FONT, fontSize: 22, fill: INK,
          align: 'center', verticalAlign: 'middle', textAlign: 'center', textVerticalAlign: 'middle'}
});

const chart = echarts.init(document.getElementById('chart'));
chart.setOption({
  animation: false,
  backgroundColor: '#fff',
  grid: grids,
  xAxis: xAxes,
  yAxis: yAxes,
  series: series,
  graphic: graphic
});
</script>
</body>
</html>
